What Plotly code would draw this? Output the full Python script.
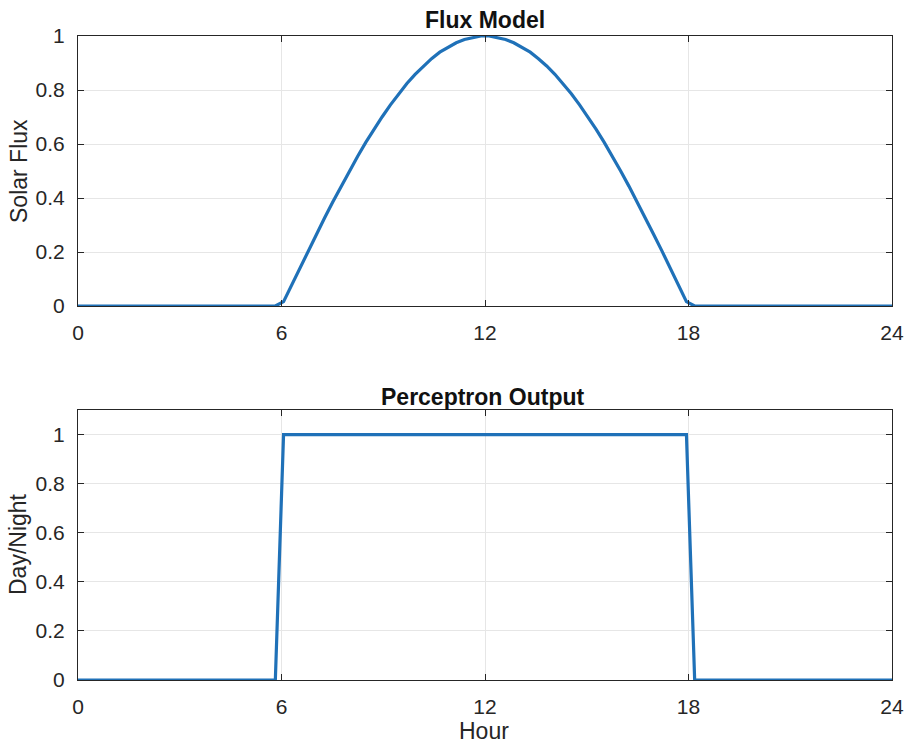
import numpy as np
import plotly.graph_objects as go

# sample grid (hours), 100 samples from 0 to 24
hours = np.linspace(0, 24, 100)

flux_rise = [0.016, 0.079, 0.142, 0.205, 0.266, 0.327, 0.386, 0.444, 0.500, 0.554,
             0.606, 0.655, 0.701, 0.745, 0.786, 0.824, 0.858, 0.889, 0.916, 0.940,
             0.959, 0.975, 0.987, 0.995, 1.000]
flux_fall = [1.000, 0.995, 0.987, 0.975, 0.959, 0.940, 0.916, 0.889, 0.858, 0.824,
             0.786, 0.745, 0.701, 0.655, 0.606, 0.554, 0.500, 0.444, 0.386, 0.327,
             0.266, 0.205, 0.142, 0.079, 0.016]
solar_flux = [0.0] * 25 + flux_rise + flux_fall + [0.0] * 25
day_night = [0] * 25 + [1] * 50 + [0] * 25

x_ticks = [0, 6, 12, 18, 24]
y_ticks = [0, 0.2, 0.4, 0.6, 0.8, 1]
y_tick_text = ["0", "0.2", "0.4", "0.6", "0.8", "1"]

line_color = "#1f71b8"
axis_color = "#262626"
grid_color = "#e6e6e6"
font_family = "Liberation Sans, Arial, sans-serif"

W, H = 908, 745


def px(x):
    return x / W


def py(y):
    return (H - y) / H


xd = [px(78), px(892)]
top_dom = [py(306), py(36)]
bot_dom = [py(680), py(410)]

fig = go.Figure()
fig.add_trace(go.Scatter(x=hours, y=solar_flux, mode="lines",
                         line=dict(color=line_color, width=3.2), xaxis="x", yaxis="y",
                         showlegend=False))
fig.add_trace(go.Scatter(x=hours, y=day_night, mode="lines",
                         line=dict(color=line_color, width=3.2), xaxis="x2", yaxis="y2",
                         showlegend=False))

common_axis = dict(showline=True, linecolor=axis_color, linewidth=1, mirror="ticks",
                   ticks="inside", ticklen=6, tickcolor=axis_color, showgrid=True,
                   gridcolor=grid_color, gridwidth=1, zeroline=False, automargin=False,
                   tickfont=dict(family=font_family, size=21, color=axis_color))
x_axis = dict(common_axis, ticklabelstandoff=8)
y_axis = dict(common_axis, ticklabelstandoff=8)

fig.update_layout(
    width=W, height=H,
    margin=dict(l=0, r=0, t=0, b=0, pad=0, autoexpand=False),
    paper_bgcolor="white", plot_bgcolor="white",
    xaxis=dict(domain=xd, range=[0, 24], tickvals=x_ticks, anchor="y", **x_axis),
    yaxis=dict(domain=top_dom, range=[0, 1], tickvals=y_ticks, ticktext=y_tick_text,
               anchor="x", **y_axis),
    xaxis2=dict(domain=xd, range=[0, 24], tickvals=x_ticks, anchor="y2", **x_axis),
    yaxis2=dict(domain=bot_dom, range=[0, 1.1], tickvals=y_ticks, ticktext=y_tick_text,
                anchor="x2", **y_axis),
)

notes = [
    ("<b>Flux Model</b>", 485, 20, 0, 23, "#111111", "middle"),
    ("<b>Perceptron Output</b>", 483, 397, 0, 23, "#111111", "middle"),
    ("Solar Flux", 19, 171, -90, 23, axis_color, "middle"),
    ("Day/Night", 18, 544, -90, 23, axis_color, "middle"),
    ("Hour", 484, 745, 0, 23, axis_color, "bottom"),
]
for text, ax, ay, ang, size, col, yanc in notes:
    fig.add_annotation(text=text, x=px(ax), y=py(ay), xref="paper", yref="paper",
                       xanchor="center", yanchor=yanc, textangle=ang, showarrow=False,
                       borderpad=0, font=dict(family=font_family, size=size, color=col))

fig.write_html(
    "out.html",
    config={"displayModeBar": False},
    post_script="document.body.style.margin='0';document.body.style.padding='0';"
                "document.documentElement.style.overflow='hidden';",
)
